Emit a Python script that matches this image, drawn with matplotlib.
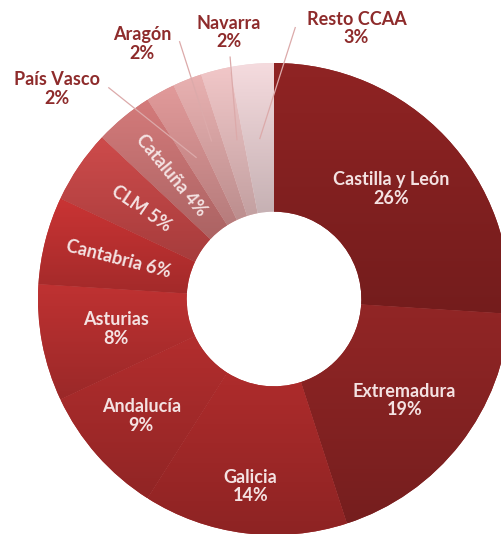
import numpy as np
import matplotlib
matplotlib.use("Agg")
import matplotlib.pyplot as plt
import matplotlib.colors as mcolors

plt.rcParams['font.family'] = ['Lato', 'DejaVu Sans']

# Datos
regiones = ['Castilla y León', 'Extremadura', 'Galicia', 'Andalucía', 'Asturias',
            'Cantabria', 'CLM', 'Cataluña', 'País Vasco', 'Aragón', 'Navarra',
            'Resto CCAA']
porcentajes = [26, 19, 14, 9, 8, 6, 5, 4, 2, 2, 2, 3]
colores = ['#8a2222', '#8c2424', '#a82a2a', '#ac2c2c', '#b83030', '#c23232',
           '#c64848', '#cc7676', '#d99494', '#e0aaaa', '#e8bfc0', '#ecd3d6']

# tipo de etiqueta: 'in' = dentro (2 lineas), 'rad' = radial, 'out' = fuera con guia
tipo_etiqueta = ['in', 'in', 'in', 'in', 'in', 'rad', 'rad', 'rad',
                 'out', 'out', 'out', 'out']
radio_etiqueta = [0.68, 0.70, 0.80, 0.75, 0.68, 0.68, 0.68, 0.68, 0, 0, 0, 0]

# posiciones de etiquetas exteriores (texto, inicio guia, fin guia)
pos_fuera = {
    'País Vasco': ((-0.92, 0.89), (-0.70, 0.895), (-0.33, 0.60)),
    'Aragón': ((-0.56, 1.08), (-0.40, 1.09), (-0.265, 0.67)),
    'Navarra': ((-0.19, 1.13), (-0.186, 1.025), (-0.157, 0.675)),
    'Resto CCAA': ((0.35, 1.145), (0.09, 1.15), (-0.06, 0.68)),
}

fig = plt.figure(figsize=(5.02, 5.34), dpi=100)
ax = fig.add_axes([0, 0, 1, 1])

wedges, _ = ax.pie(porcentajes, colors=colores, startangle=90, counterclock=False,
                   radius=1.0, wedgeprops=dict(width=0.63, linewidth=0))

# degradado vertical en cada porcion
grad = np.linspace(0, 1, 256).reshape(-1, 1)
for w, c in zip(wedges, colores):
    rgb = np.array(mcolors.to_rgb(c))
    bb = w.get_path().get_extents()
    top = np.clip(rgb * 1.04, 0, 1)
    bot = rgb * 0.84
    img = top[None, None, :] * (1 - grad[:, :, None]) + bot[None, None, :] * grad[:, :, None]
    im = ax.imshow(img, extent=(bb.x0, bb.x1, bb.y0, bb.y1), origin='upper',
                   aspect='auto', interpolation='bilinear', zorder=2)
    im.set_clip_path(w)

col_in = '#f4e2e2'
col_out = '#8e2b2b'
col_guia = '#dcaaaa'
tam = 13

for w, reg, p, t, r in zip(wedges, regiones, porcentajes, tipo_etiqueta, radio_etiqueta):
    ang = np.deg2rad((w.theta1 + w.theta2) / 2)
    if t == 'in':
        ax.text(r * np.cos(ang), r * np.sin(ang), f'{reg}\n{p}%', ha='center', va='center',
                color=col_in, fontsize=tam, fontweight='bold', linespacing=1.1, zorder=5)
    elif t == 'rad':
        rot = (np.rad2deg(ang) % 360) - 180
        ax.text(r * np.cos(ang), r * np.sin(ang), f'{reg} {p}%', ha='center', va='center',
                rotation=rot, rotation_mode='anchor', color=col_in, fontsize=tam,
                fontweight='bold', zorder=5)
    else:
        (tx, ty), (sx, sy), (ex, ey) = pos_fuera[reg]
        ax.plot([sx, ex], [sy, ey], color=col_guia, lw=0.9, zorder=4)
        ax.text(tx, ty, f'{reg}\n{p}%', ha='center', va='center', color=col_out,
                fontsize=tam, fontweight='bold', linespacing=1.1, zorder=5)

ax.set_xlim(-274 / 236, 228 / 236)
ax.set_ylim(-235 / 236, 299 / 236)
ax.set_aspect('equal')
ax.axis('off')

fig.savefig('out.png', dpi=100, facecolor='white')
